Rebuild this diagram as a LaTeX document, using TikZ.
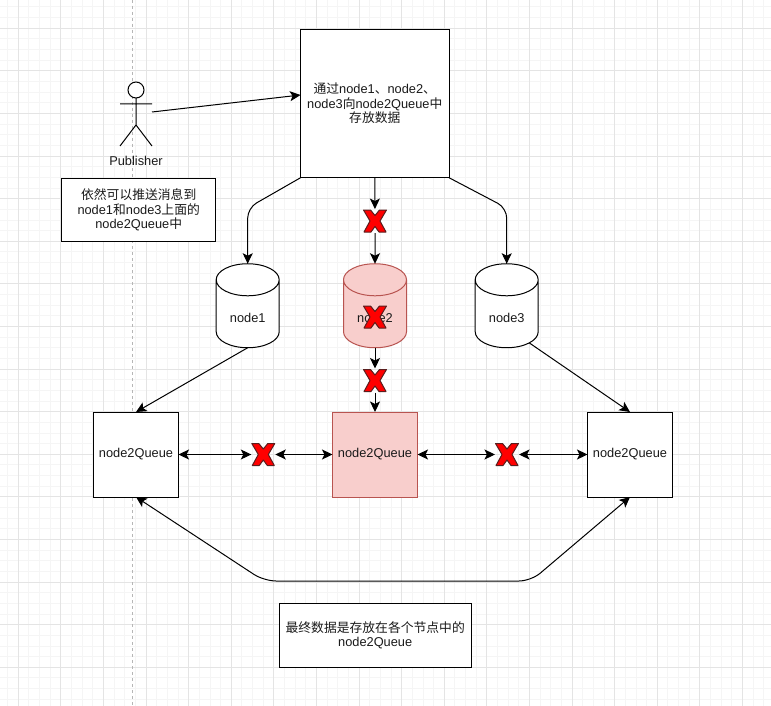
\documentclass[tikz,border=0pt]{standalone}
\usepackage{fontspec}
\setmainfont{Liberation Sans}
\newfontfamily\cjk{Noto Sans CJK SC}
\usetikzlibrary{arrows.meta}
\usetikzlibrary{shapes.geometric}
\definecolor{mgrid}{RGB}{228,228,228}
\definecolor{mfine}{RGB}{245,245,245}
\definecolor{mink}{RGB}{26,26,26}
\definecolor{mpink}{RGB}{248,206,204}
\definecolor{mrose}{RGB}{184,84,80}
\definecolor{mxedge}{RGB}{90,30,30}
\newcommand{\lowtext}[1]{\raisebox{-8.5pt}[0pt][0pt]{#1}}
\tikzset{
  txt/.style={font=\fontsize{12.8}{14.4}\selectfont, text=mink, align=center, inner sep=0pt, outer sep=0pt},
  box/.style={txt, draw=black, fill=white, line width=1pt, minimum width=#1},
  barrel/.style={txt, cylinder, shape border rotate=90, aspect=0.9, draw=black, fill=white, line width=1pt,
    minimum width=63pt, minimum height=84pt},
  arr/.style={line width=1pt, draw=black, -{Stealth[length=10.5pt,width=10pt,inset=2.5pt]}},
  arrboth/.style={line width=1pt, draw=black, {Stealth[length=10.5pt,width=10pt,inset=2.5pt]}-{Stealth[length=10.5pt,width=10pt,inset=2.5pt]}},
  redx/.style={minimum width=24pt, minimum height=24pt, inner sep=0pt, outer sep=0pt, path picture={
    \draw[fill=red, draw=mxedge, line width=1pt, line join=round, shift={(path picture bounding box.center)}]
      (-11,-11) -- (-4,-11) -- (0,-5.5) -- (4,-11) -- (11,-11) -- (5,0) -- (11.5,11) -- (4.5,11)
      -- (0,5.5) -- (-4.5,11) -- (-11.5,11) -- (-5,0) -- cycle;}},
}

\begin{document}
\begin{tikzpicture}[y=1pt, x=1pt, yscale=-1, inner sep=0pt, outer sep=0pt]

\useasboundingbox (0,0) rectangle (771,706);
\fill[white] (0,0) rectangle (771,706);

% grid
\foreach \k in {0,...,72} {
  \draw[mfine, line width=1pt] ({7.65+10.65*\k},0) -- ++(0,706);
  \draw[mfine, line width=1pt] (0,{7+10.65*\k}) -- ++(771,0);
}
\foreach \k in {0,...,18} {
  \draw[mgrid, line width=1pt] ({18.3+42.6*\k},0) -- ++(0,706);
  \draw[mgrid, line width=1pt] (0,{28.3+42.6*\k}) -- ++(771,0);
}
\draw[mgrid!80!black, line width=1pt, dashed] (132.5,0) -- (132.5,706);

% publisher
\draw[line width=1pt, fill=white] (136,90) circle (8);
\draw[line width=1pt] (136,98) -- (136,125) (120,104) -- (152,104)
  (120,146) -- (136,125) -- (152,146);
\node[txt] (pub) at (136,160.7) {Publisher};
\coordinate (pubout) at (152,112);
\coordinate (boxin) at (300.5,95);

% boxes
\node[box=148.4pt, minimum height=148.4pt] (store) at (374.8,103.5) {{\cjk 通过}node1{\cjk 、}node2{\cjk 、}\\node3{\cjk 向}node2Queue{\cjk 中}\\{\cjk 存放数据}};
\node[box=154pt, minimum height=63.4pt] (note) at (138.7,210) {{\cjk 依然可以推送消息到}\\node1{\cjk 和}node3{\cjk 上面的}\\node2Queue{\cjk 中}};
\node[box=191.7pt, minimum height=64pt] (final) at (375.2,635.2) {{\cjk 最终数据是存放在各个节点中的}\\node2Queue};

% cylinders
\node[barrel] (node1) at (247.7,314) {\lowtext{node1}};
\node[barrel, fill=mpink, draw=mrose] (node2) at (375,314) {\lowtext{node2}};
\node[barrel] (node3) at (506.7,314) {\lowtext{node3}};

% queues
\node[box=85pt, minimum height=85pt] (queue1) at (136,454.5) {node2Queue};
\node[box=85pt, minimum height=85pt, fill=mpink, draw=mrose] (queue2) at (375,454.5) {node2Queue};
\node[box=85pt, minimum height=85pt] (queue3) at (630,454.5) {node2Queue};

% crosses
\node[redx] (cross1) at (375,221) {};
\node[redx] (cross3) at (375,380.5) {};
\node[redx] (cross4) at (263.3,454.5) {};
\node[redx] (cross5) at (507,454.5) {};
\node[redx] (cross2) at (375,317) {};

% arrows
\draw[arr] (pubout) -- (boxin);
\draw[arr, rounded corners=10pt] (store.south west) -- (247.7,208) -- (node1.north);
\draw[arr, rounded corners=10pt] (store.south east) -- (506.7,208) -- (node3.north);
\draw[arr] (store.south) -- (cross1);
\draw[arr] (cross1) -- (node2.north);
\draw[arr] (node2.south) -- (cross3);
\draw[arr] (cross3) -- (queue2.north);
\draw[arr] (node1.south) -- (queue1.north);
\draw[arr] (node3.308) -- (queue3.north);
\draw[arrboth] (queue1) -- (cross4);
\draw[arrboth] (cross4) -- (queue2);
\draw[arrboth] (queue2) -- (cross5);
\draw[arrboth] (cross5) -- (queue3);
\draw[arrboth, rounded corners=12pt] (queue1.south) -- (264,581) -- (531,581) -- (queue3.south);

\end{tikzpicture}
\end{document}
